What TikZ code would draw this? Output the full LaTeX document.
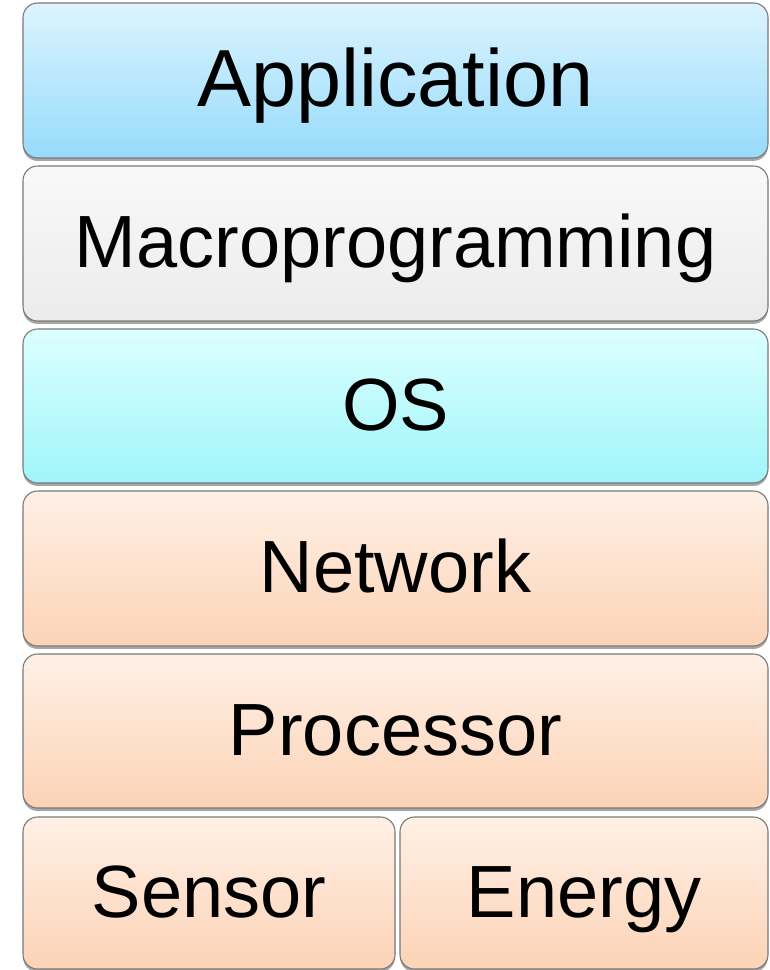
\documentclass[tikz,border=0pt]{standalone}
\usepackage{fontspec}
\setmainfont{Liberation Sans}
\usetikzlibrary{shadows}
\definecolor{edgegray}{HTML}{787878}
\definecolor{appTop}{HTML}{DDF4FF}
\definecolor{appBot}{HTML}{96DBFB}
\definecolor{macTop}{HTML}{F9F9F9}
\definecolor{macBot}{HTML}{EBEBEB}
\definecolor{osTop}{HTML}{DCFFFF}
\definecolor{osBot}{HTML}{A0F5FA}
\definecolor{orTop}{HTML}{FFF0E6}
\definecolor{orBot}{HTML}{FCD3B6}
\tikzset{
  layer/.style={rectangle, rounded corners=11pt, draw=edgegray, line width=0.8pt,
    inner sep=0pt, outer sep=0pt, text=black,
    font=\fontsize{55.5}{60}\selectfont, text height=39.75pt, text depth=3.75pt,
    drop shadow={shadow xshift=0pt, shadow yshift=-2.2pt, opacity=0.35, fill=black}},
  fullrow/.style={minimum width=558.75pt},
  bluelayer/.style={top color=appTop, bottom color=appBot},
  graylayer/.style={top color=macTop, bottom color=macBot},
  cyanlayer/.style={top color=osTop, bottom color=osBot},
  orangelayer/.style={top color=orTop, bottom color=orBot}
}
\begin{document}
\begin{tikzpicture}[x=0.75pt,y=-0.75pt]
\useasboundingbox (0,0) rectangle (769,970);
\clip (0,0) rectangle (769,970);
\fill[white] (0,0) rectangle (769,970);
\node[layer, fullrow, bluelayer, minimum height=116.25pt,
      font=\fontsize{60.75}{66}\selectfont, text height=43.5pt] (app) at (395.5,80.5) {Application};
\node[layer, fullrow, graylayer, minimum height=116.25pt] (macro) at (395.5,243.5) {Macroprogramming};
\node[layer, fullrow, cyanlayer, minimum height=115.5pt] (os) at (395.5,406) {OS};
\node[layer, fullrow, orangelayer, minimum height=116.25pt] (net) at (395.5,568.5) {Network};
\node[layer, fullrow, orangelayer, minimum height=115.5pt] (proc) at (395.5,731) {Processor};
\node[layer, orangelayer, minimum width=279pt, minimum height=114pt] (sensor) at (209,893) {Sensor};
\node[layer, orangelayer, minimum width=276pt, minimum height=114pt] (energy) at (584,893) {Energy};
\end{tikzpicture}
\end{document}
